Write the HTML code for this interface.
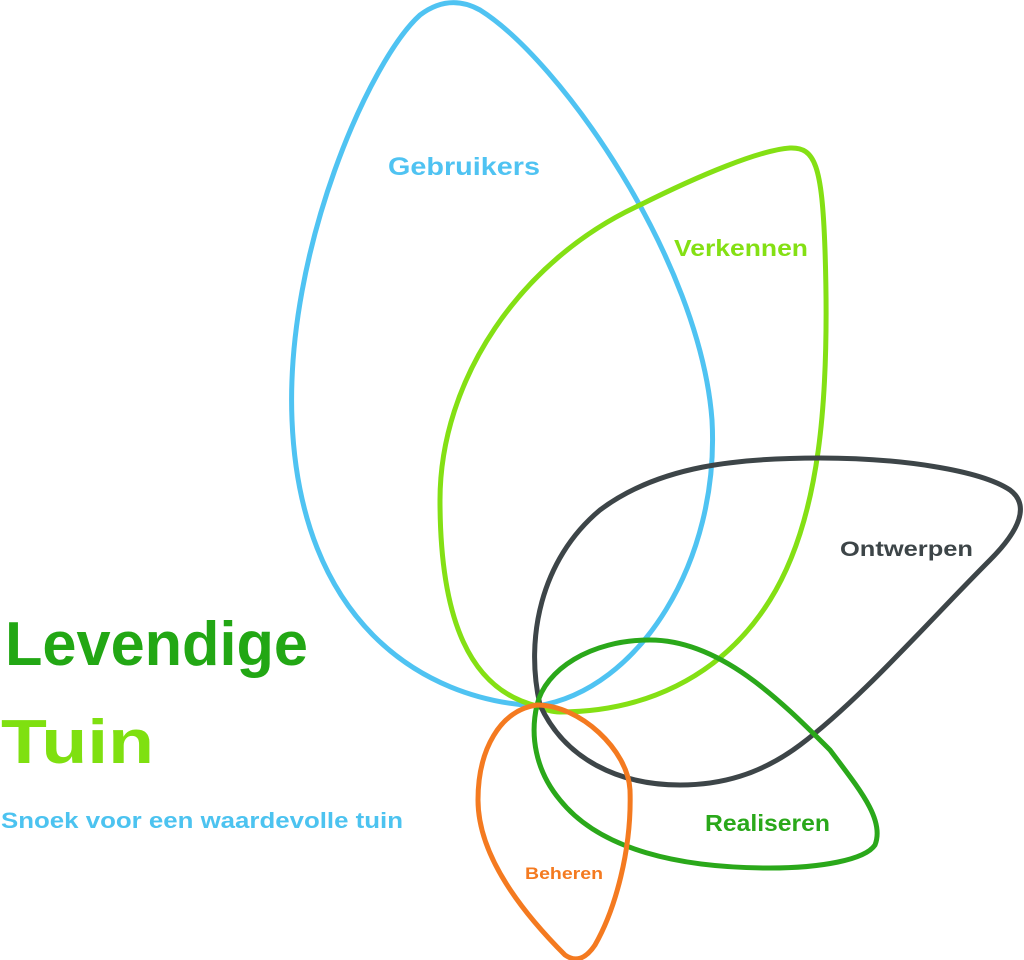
<!DOCTYPE html>
<html><head><style>
body{margin:0;width:1024px;height:960px;background:#fff;overflow:hidden;font-family:"Liberation Sans",sans-serif}
</style></head><body>
<svg width="1024" height="960" viewBox="0 0 1024 960" xmlns="http://www.w3.org/2000/svg" style="position:absolute;left:0;top:0">
<g fill="none" stroke-width="5" stroke-linejoin="round">
<path stroke="#4fc3f2" d="M537,706 C420,700 300,620 292,420 C285,250 370,60 420,15 C440,0 460,-1 480,10 C560,60 700,260 712,420 C720,560 640,690 537,706 Z"/>
<path stroke="#84e014" d="M537,706 C470,690 440,620 440,500 C440,380 520,260 640,205 C700,175 760,150 790,148 C815,147 822,165 825,250 C830,400 820,520 770,600 C720,680 640,712 560,712 C550,712 542,708 537,706 Z"/>
<path stroke="#3d4548" d="M540,705 C525,640 540,560 600,510 C660,465 740,458 820,458 C900,458 980,470 1010,490 C1030,505 1020,530 990,560 C930,620 860,700 800,745 C760,775 720,785 680,785 C620,785 565,760 540,705 Z"/>
<path stroke="#2aa81a" d="M537,705 C545,670 590,640 650,640 C720,640 780,700 830,750 C860,790 885,820 875,845 C865,860 820,868 770,868 C680,868 600,850 560,800 C535,770 530,735 537,705 Z"/>
<path stroke="#f47a20" d="M537,705 C500,710 478,750 478,800 C478,860 530,920 565,955 C575,962 585,960 595,945 C615,910 632,850 630,790 C628,750 580,705 537,705 Z"/>
</g>
<g font-family="Liberation Sans, sans-serif" font-weight="bold">
<text x="388" y="175" font-size="25" fill="#4fc3f2" textLength="152" lengthAdjust="spacingAndGlyphs">Gebruikers</text>
<text x="674" y="256" font-size="23" fill="#84e014" textLength="134" lengthAdjust="spacingAndGlyphs">Verkennen</text>
<text x="840" y="556" font-size="21" fill="#3d4548" textLength="133" lengthAdjust="spacingAndGlyphs">Ontwerpen</text>
<text x="705" y="831" font-size="23" fill="#2aa81a" textLength="125" lengthAdjust="spacingAndGlyphs">Realiseren</text>
<text x="525" y="879" font-size="17" fill="#f47a20" textLength="78" lengthAdjust="spacingAndGlyphs">Beheren</text>
<text x="5" y="665" font-size="62" fill="#22a714" textLength="303" lengthAdjust="spacingAndGlyphs">Levendige</text>
<text x="1" y="763" font-size="62" fill="#7fe010" textLength="153" lengthAdjust="spacingAndGlyphs">Tuin</text>
<text x="1" y="828" font-size="22" fill="#4cc3f0" textLength="402" lengthAdjust="spacingAndGlyphs">Snoek voor een waardevolle tuin</text>
</g>
</svg>
</body></html>
